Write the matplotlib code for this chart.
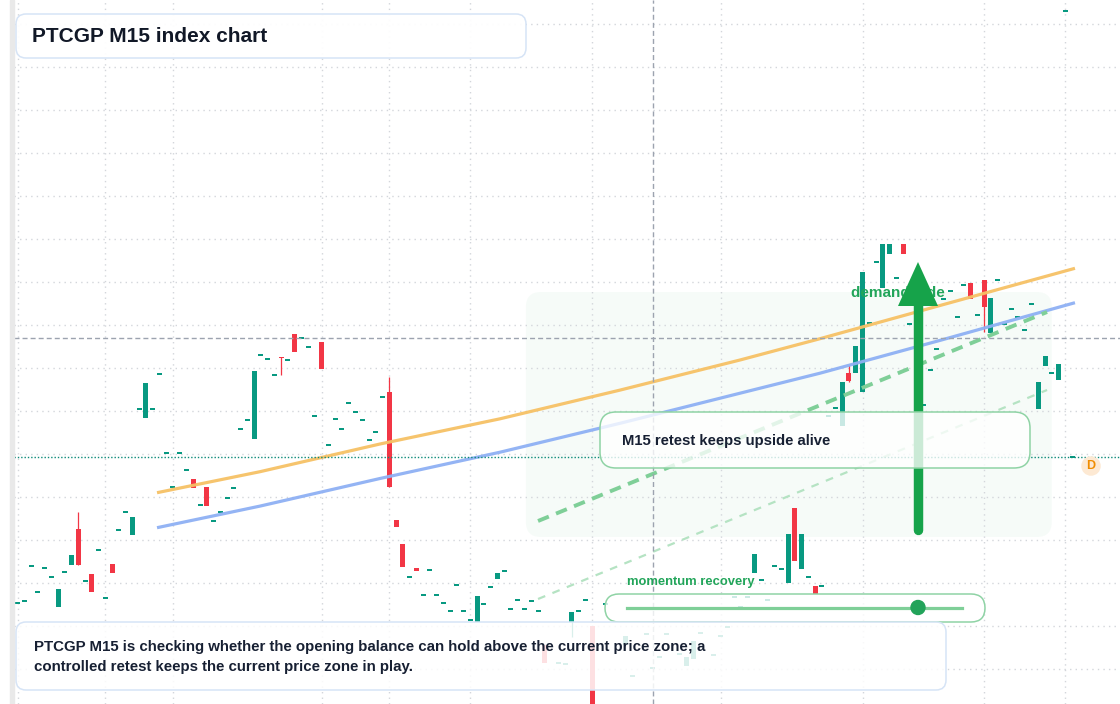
import matplotlib
matplotlib.use("Agg")
import matplotlib.pyplot as plt
import numpy as np
from matplotlib.patches import FancyBboxPatch, Polygon, Circle, Rectangle
from matplotlib.transforms import Affine2D

plt.rcParams['font.family'] = ['Liberation Sans', 'DejaVu Sans']

nan = np.nan

# M15 bars (nan = bar hidden / not visible)
opens = [105.4, 105.6, 109.1, 106.5, 108.9, 108.0, 105.0, 108.5, 109.2, 112.8,
         107.6, 108.3, 110.7, 105.9, 109.3, 112.7, 114.5, 112.2, 124.8, 123.9,
         124.8, 128.3, 120.4, 117.0, 120.4, 118.7, 117.8, 115.2, 117.0, 113.6,
         114.5, 115.9, 116.9, 122.8, 123.7, 121.8, 130.2, 129.8, 128.2, 130.05,
         129.7, 132.3, 131.9, 131.0, 124.1, 131.5, 121.2, 123.8, 122.8, 125.4,
         124.5, 123.7, 121.7, 122.5, 126.0, 126.5, 113.7, 111.3, 108.0, 108.9,
         106.2, 108.7, 106.2, 105.4, 104.6, 107.2, 104.6, 103.7, 103.5, 105.3,
         107.0, 107.8, 108.6, 104.8, 105.7, 104.8, 105.6, 104.6, 101.2, nan,
         99.4, 99.3, 103.5, 104.6, 105.7, 103.1, nan, 105.3, nan, nan,
         101.2, 98.1, nan, 102.3, 98.9, 100.0, 102.3, nan, 100.3, 99.1,
         99.8, 102.4, nan, 100.2, 102.1, 103.0, 106.0, 105.0, 106.0, 108.4,
         107.7, 105.7, 109.1, 108.8, 107.4, 114.9, 108.8, 108.0, 107.1, 107.1,
         124.1, 124.9, 123.1, 128.4, 128.4, 126.5, 133.4, 139.5, 136.9, 140.3,
         137.9, 141.3, 133.3, nan, 125.2, 128.7, 130.8, 135.8, 136.6, 134.0,
         137.2, 137.4, 134.2, 137.7, 132.4, 137.7, 133.3, 134.8, 134.0, 132.7,
         135.3, 124.8, 129.1, 128.4, 127.7, 164.6, 120.0]
closes = [105.4, 105.6, 109.1, 106.5, 108.9, 108.0, 106.8, 108.5, 110.2, 109.2,
          107.6, 106.5, 110.7, 105.9, 108.4, 112.7, 114.5, 114.0, 124.8, 127.4,
          124.8, 128.3, 120.4, 117.0, 120.4, 118.7, 116.9, 115.2, 115.1, 113.6,
          114.5, 115.9, 116.9, 122.8, 123.7, 128.6, 130.2, 129.8, 128.2, 129.95,
          129.7, 130.5, 131.9, 131.0, 124.1, 128.8, 121.2, 123.8, 122.8, 125.4,
          124.5, 123.7, 121.7, 122.5, 126.0, 117.0, 113.0, 109.0, 108.0, 108.6,
          106.2, 108.7, 106.2, 105.4, 104.6, 107.2, 104.6, 103.7, 106.1, 105.3,
          107.0, 108.4, 108.6, 104.8, 105.7, 104.8, 105.6, 104.6, 99.4, nan,
          99.4, 99.3, 104.5, 104.6, 105.7, 93.7, nan, 105.3, nan, nan,
          102.1, 98.1, nan, 102.3, 98.9, 100.0, 102.3, nan, 100.3, 100.0,
          101.6, 102.4, nan, 100.2, 102.1, 103.0, 106.0, 105.0, 106.0, 110.3,
          107.7, 105.7, 109.1, 108.8, 112.3, 109.6, 112.3, 108.0, 106.3, 107.1,
          124.1, 124.9, 127.5, 127.6, 131.1, 138.5, 133.4, 139.5, 141.3, 141.3,
          137.9, 140.3, 133.3, nan, 125.2, 128.7, 130.8, 135.8, 136.6, 134.0,
          137.2, 135.8, 134.2, 135.0, 135.9, 137.7, 133.3, 134.8, 134.0, 132.7,
          135.3, 127.5, 130.1, 128.4, 129.3, 164.6, 120.0]
wick_high = {9: 114.5, 55: 128.0, 123: 129.2}
wick_low = {39: 128.2, 82: 102.0, 123: 127.5, 143: 132.5}

# overlay curves (bar index, price)
orange_x = [20.64, 35.87, 53.62, 71.38, 89.13, 106.88, 118.71, 136.46, 156.43]
orange_y = [116.43, 118.53, 121.3, 123.82, 126.69, 129.7, 131.83, 135.15, 138.87]
blue_x = [20.64, 35.87, 53.62, 71.38, 89.13, 108.36, 118.71, 136.46, 156.43]
blue_y = [112.93, 115.09, 117.85, 120.48, 123.37, 126.63, 128.38, 131.66, 135.43]
channel_x = [77.0, 152.3]
channel_top = [113.6, 134.5]
channel_bot = [105.8, 126.7]
zone_x = (75.2, 153.0)
zone_y = (112.0, 136.5)
last_price = 120.0
cross_x, cross_y = 94, 131.9
grid_x = [0, 13, 23, 45, 55, 67, 85, 104, 125, 143, 155]

W, H = 1120, 704
left = 14
fig = plt.figure(figsize=(W / 100, H / 100), dpi=100)
ax = fig.add_axes([left / W, 0, 1 - left / W, 1])
ax.set_xlim(-0.518, 163.09)
ax.set_ylim(95.3, 165.7)
for s in ax.spines.values():
    s.set_visible(False)
ax.set_xticks(grid_x)
ax.set_yticks(np.arange(98.8, 164, 4.3))
ax.tick_params(length=0, labelleft=False, labelbottom=False)
ax.grid(color='#d3d6db', linestyle=(0, (1, 3)), linewidth=1, zorder=1)
ax.set_axisbelow(True)

# pixel coordinates (origin top-left) for the layout boxes
px = Affine2D().scale(1 / W, -1 / H).translate(0, 1) + fig.transFigure

fig.patches.append(Rectangle((10, 0), 4, H, transform=px, color='#e9e9e9', zorder=0))

zone = FancyBboxPatch((zone_x[0], zone_y[0]), zone_x[1] - zone_x[0], zone_y[1] - zone_y[0],
                      boxstyle="round,pad=0,rounding_size=2.2", mutation_aspect=0.68,
                      facecolor='#16a34a', alpha=0.035, edgecolor='none', zorder=0.5)
ax.add_patch(zone)

ax.plot(channel_x, channel_bot, color='#b5e3c3', lw=1.6, dashes=(3.5, 3.5), zorder=2)

# candles
opens = np.array(opens)
closes = np.array(closes)
idx = np.arange(len(opens))
ok = ~np.isnan(opens)
up = ok & (closes >= opens)
dn = ok & (closes < opens)
green, red = '#089981', '#f23645'
for mask, col in ((up, green), (dn, red)):
    lo = np.minimum(opens[mask], closes[mask])
    h = np.abs(closes[mask] - opens[mask])
    flat = h < 0.15
    lo = np.where(flat, lo - 0.075, lo)
    h = np.where(flat, 0.15, h)
    ax.bar(idx[mask], h, bottom=lo, width=0.74, color=col, linewidth=0, zorder=3)
for i in sorted(set(wick_high) | set(wick_low)):
    col = green if closes[i] >= opens[i] else red
    hi = wick_high.get(i, max(opens[i], closes[i]))
    lw_ = wick_low.get(i, min(opens[i], closes[i]))
    ax.vlines(i, lw_, hi, color=col, lw=0.9, zorder=3)

ax.plot(orange_x, orange_y, color='#f6c165', lw=2.3, alpha=0.95, zorder=4,
        solid_capstyle='butt', solid_joinstyle='round')
ax.plot(blue_x, blue_y, color='#8eb0f4', lw=2.3, alpha=0.95, zorder=4,
        solid_capstyle='butt', solid_joinstyle='round')
ax.plot(channel_x, channel_top, color='#7fcf98', lw=2.8, dashes=(3, 2), zorder=4)

# crosshair and last price
ax.axhline(cross_y, color='#9ca3af', lw=1, dashes=(3.6, 2.2), zorder=5)
ax.axvline(cross_x, color='#9ca3af', lw=1, dashes=(3.6, 2.2), zorder=5)
ax.axhline(last_price, color='#0b8a78', lw=1, dashes=(1, 1.4), zorder=5)

# "demand side" label and arrow
ax.text(851, 293, 'demand side', transform=px, fontsize=11, fontweight='bold',
        color='#22a55a', va='center', ha='left', zorder=5)
ax.plot([918, 918], [530, 300], transform=px, color='#16a34a', lw=6.8,
        solid_capstyle='round', zorder=5.5)
ax.add_patch(Polygon([(898, 306), (938, 306), (918, 262)], closed=True, transform=px,
                     facecolor='#16a34a', edgecolor='none', zorder=5.5))


def box(x0, y0, x1, y1, r, face_alpha, edge, z=6):
    p = FancyBboxPatch((x0, y0), x1 - x0, y1 - y0, boxstyle=f"round,pad=0,rounding_size={r}",
                       transform=px, facecolor=(1, 1, 1, face_alpha), edgecolor=edge,
                       linewidth=1.1, zorder=z)
    ax.add_patch(p)


box(16, 14, 526, 58, 10, 0.95, '#d6e4f6')
ax.text(32, 36, 'PTCGP M15 index chart', transform=px, fontsize=15, fontweight='bold',
        color='#111827', va='center', ha='left', zorder=7)

box(600, 412, 1030, 468, 16, 0.78, '#8fd3a5')
ax.text(622, 441, 'M15 retest keeps upside alive', transform=px, fontsize=10.75, fontweight='bold',
        color='#172033', va='center', ha='left', zorder=7)

ax.text(627, 582, 'momentum recovery', transform=px, fontsize=9.4, fontweight='bold',
        color='#22a55a', va='center', ha='left', zorder=7)
box(605, 594, 985, 622, 14, 0.8, '#8fd3a5')
ax.plot([627, 962], [607.5, 607.5], transform=px, color='#7fcf98', lw=2.3, zorder=7)
ax.add_patch(Circle((918, 607.5), 7, transform=px, color='#22a35a', zorder=7.5))

box(16, 622, 946, 690, 10, 0.85, '#d6e4f6')
ax.text(34, 657, 'PTCGP M15 is checking whether the opening balance can hold above the current price zone; a\n'
        'controlled retest keeps the current price zone in play.', transform=px, fontsize=10.8,
        fontweight='bold', color='#172033', va='center', ha='left', linespacing=1.53, zorder=7)

ax.text(1091, 466, 'D', transform=px, fontsize=9, fontweight='bold', color='#f08c00',
        va='center', ha='center', zorder=7,
        bbox=dict(boxstyle='circle,pad=0.3', facecolor='#fde9d3', edgecolor='none'))

fig.savefig('out.png', dpi=100)
